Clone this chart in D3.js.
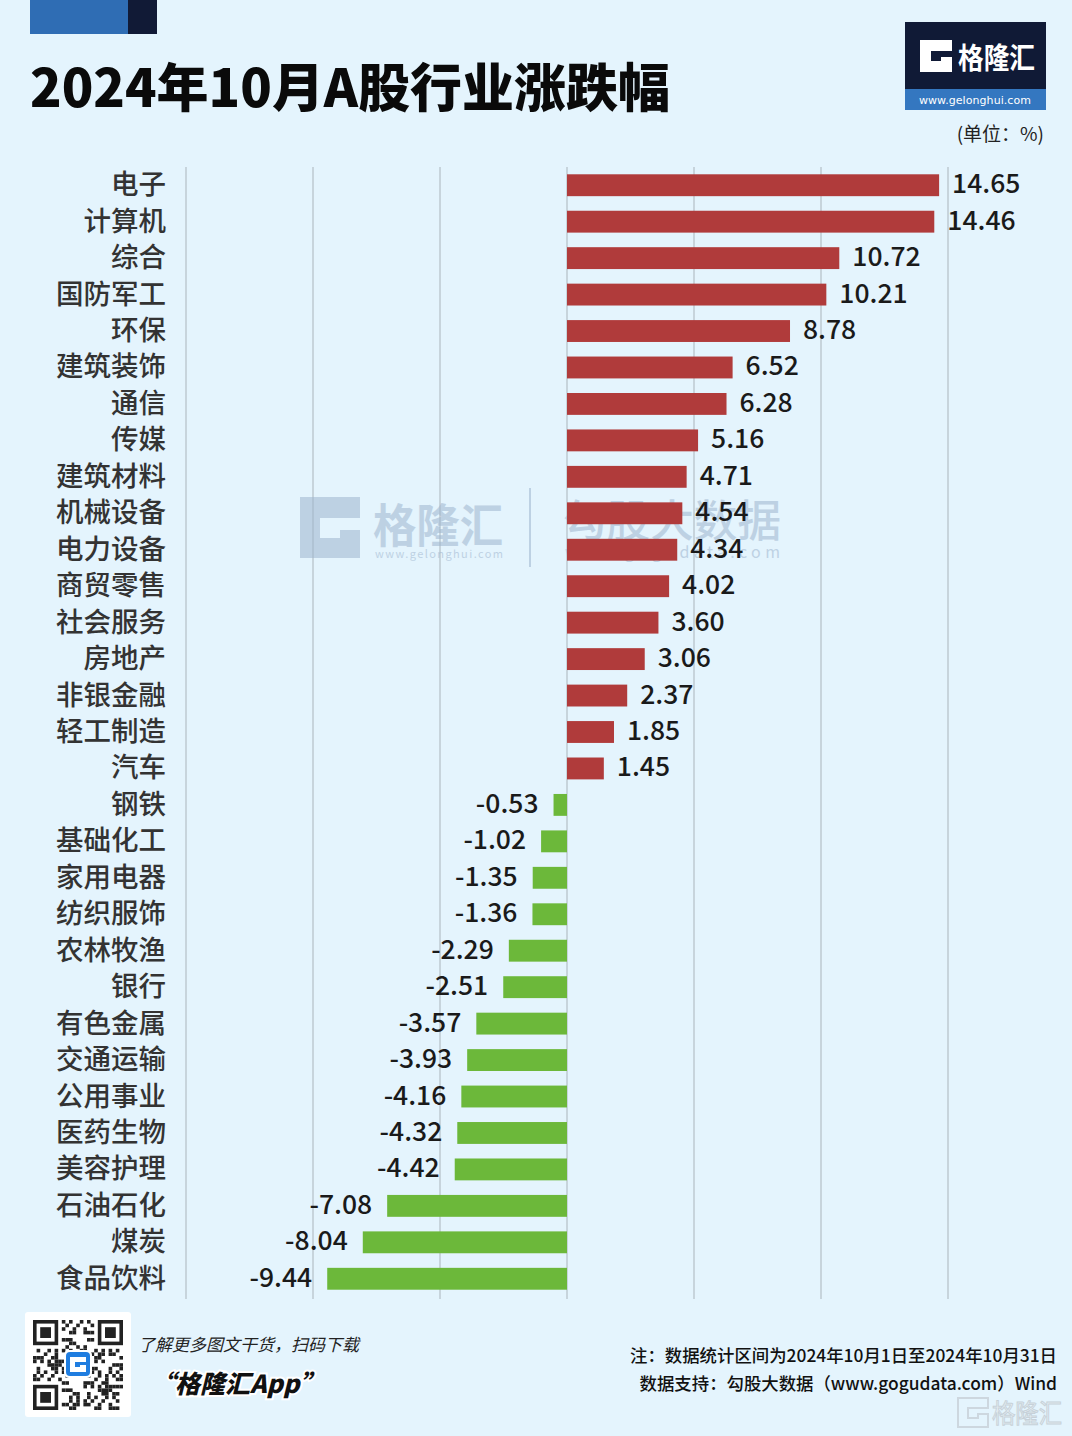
<!DOCTYPE html>
<html><head><meta charset="utf-8">
<script src="https://cdn.jsdelivr.net/npm/d3@7"></script>
<style>
html,body{margin:0;padding:0;background:#e4f4fd;}
svg{display:block;font-family:"Noto Sans CJK SC","Noto Sans",sans-serif;}
</style></head>
<body>
<svg id="c" width="1072" height="1436"></svg>
<script>
const categories = ["电子","计算机","综合","国防军工","环保","建筑装饰","通信","传媒","建筑材料","机械设备","电力设备","商贸零售","社会服务","房地产","非银金融","轻工制造","汽车","钢铁","基础化工","家用电器","纺织服饰","农林牧渔","银行","有色金属","交通运输","公用事业","医药生物","美容护理","石油石化","煤炭","食品饮料"];
const values = [14.65,14.46,10.72,10.21,8.78,6.52,6.28,5.16,4.71,4.54,4.34,4.02,3.60,3.06,2.37,1.85,1.45,-0.53,-1.02,-1.35,-1.36,-2.29,-2.51,-3.57,-3.93,-4.16,-4.32,-4.42,-7.08,-8.04,-9.44];
const gridTicks = [-15,-10,-5,0,5,10,15];
const title = "2024年10月A股行业涨跌幅";
const unitLabel = "(单位：%)";
const note1 = "注：数据统计区间为2024年10月1日至2024年10月31日";
const note2 = "数据支持：勾股大数据（www.gogudata.com）Wind";

const data = categories.map((c,i)=>({cat:c, v:values[i]}));
const svg = d3.select("#c");
svg.append("rect").attr("width",1072).attr("height",1436).attr("fill","#e4f4fd");

// top-left decorative blocks
svg.append("rect").attr("x",30).attr("y",0).attr("width",98).attr("height",34).attr("fill","#2f6db4");
svg.append("rect").attr("x",128).attr("y",0).attr("width",29).attr("height",34).attr("fill","#111a36");

// title
svg.append("text").attr("x",30).attr("y",107).attr("font-size",52).attr("font-weight",900)
  .attr("fill","#0a0a0a").attr("textLength",640).attr("lengthAdjust","spacingAndGlyphs").text(title);

// logo top-right
const lg = svg.append("g");
lg.append("rect").attr("x",905).attr("y",22).attr("width",141).attr("height",67).attr("fill","#101a36");
lg.append("rect").attr("x",905).attr("y",89).attr("width",141).attr("height",21).attr("fill","#3477c0");
lg.append("path").attr("d","M920,40 H952 V51 H931 V61 H941 V57 H952 V72 H920 Z").attr("fill","#ffffff");
lg.append("text").attr("x",958).attr("y",69).attr("font-size",29).attr("font-weight",700).attr("fill","#fff")
  .attr("textLength",77).attr("lengthAdjust","spacingAndGlyphs").text("格隆汇");
lg.append("text").attr("x",975).attr("y",104).attr("text-anchor","middle").attr("font-size",11).attr("fill","#fff")
  .attr("font-family","DejaVu Sans, sans-serif").attr("textLength",112).text("www.gelonghui.com");

svg.append("text").attr("x",1044).attr("y",141).attr("text-anchor","end").attr("font-size",19).attr("fill","#222").text(unitLabel);

// scales
const x = d3.scaleLinear().domain([-15,15]).range([186,948]);
const y = d3.scaleBand().domain(categories).range([167,1297]).paddingInner(0.4).paddingOuter(0.2);

// grid
svg.append("g").selectAll("line").data(gridTicks).join("line")
  .attr("x1",d=>x(d)).attr("x2",d=>x(d)).attr("y1",167).attr("y2",1299)
  .attr("stroke","#b7c3cb").attr("stroke-width",1.3);

// watermark (center)
const wm = svg.append("g").attr("opacity",0.55).attr("fill","#9fb6cf");
wm.append("path").attr("d","M300,497 H360 V518 H320 V538 H340 V530 H360 V558 H300 Z").attr("fill","#9fb6cf");
wm.append("text").attr("x",373).attr("y",542).attr("font-size",46).attr("font-weight",700)
  .attr("textLength",130).attr("lengthAdjust","spacingAndGlyphs").text("格隆汇");
wm.append("text").attr("x",375).attr("y",558).attr("font-size",11).attr("textLength",128).text("www.gelonghui.com");
wm.append("line").attr("x1",530).attr("x2",530).attr("y1",488).attr("y2",567).attr("stroke","#9fb6cf").attr("stroke-width",2);
wm.append("text").attr("x",563).attr("y",537).attr("font-size",44).attr("font-weight",500)
  .attr("textLength",218).attr("lengthAdjust","spacingAndGlyphs").text("勾股大数据");
wm.append("text").attr("x",565).attr("y",558).attr("font-size",16).attr("textLength",215).text("www.gogudata.com");

// bars
svg.append("g").selectAll("rect").data(data).join("rect")
  .attr("x",d=>x(Math.min(0,d.v))).attr("y",d=>y(d.cat))
  .attr("width",d=>Math.abs(x(d.v)-x(0))).attr("height",y.bandwidth())
  .attr("fill",d=>d.v>=0?"#b03b3b":"#6cb83a");

// category labels
svg.append("g").selectAll("text").data(data).join("text")
  .attr("x",166).attr("y",d=>y(d.cat)+y.bandwidth()/2+9)
  .attr("text-anchor","end").attr("font-size",27.5).attr("font-weight",500).attr("fill","#333")
  .text(d=>d.cat);

// value labels
svg.append("g").selectAll("text").data(data).join("text")
  .attr("x",d=>d.v>=0? x(d.v)+13 : x(d.v)-15)
  .attr("y",d=>y(d.cat)+y.bandwidth()/2+8)
  .attr("text-anchor",d=>d.v>=0?"start":"end")
  .attr("font-size",26.5).attr("font-weight",500).attr("fill","#1a1a1a")
  .text(d=>d.v.toFixed(2));

// footer QR
const qr = svg.append("g");
qr.append("rect").attr("x",25).attr("y",1312).attr("width",106).attr("height",105).attr("fill","#fff").attr("rx",3);
const N=25, cell=3.6, qx=33, qy=1320;
const mods=[];
for(let i=0;i<N;i++)for(let j=0;j<N;j++){
  const inF=(i<8&&j<8)||(i<8&&j>=N-8)||(i>=N-8&&j<8);
  if(inF) continue;
  if(((i*31+j*17+(i*j)%7)%5)<2) mods.push([i,j]);
}
qr.selectAll("rect.m").data(mods).join("rect").attr("class","m")
  .attr("x",d=>qx+d[1]*cell).attr("y",d=>qy+d[0]*cell).attr("width",cell).attr("height",cell).attr("fill","#222");
[[0,0],[0,N-7],[N-7,0]].forEach(([r,c])=>{
  qr.append("rect").attr("x",qx+c*cell).attr("y",qy+r*cell).attr("width",7*cell).attr("height",7*cell).attr("fill","#222");
  qr.append("rect").attr("x",qx+(c+1)*cell).attr("y",qy+(r+1)*cell).attr("width",5*cell).attr("height",5*cell).attr("fill","#fff");
  qr.append("rect").attr("x",qx+(c+2)*cell).attr("y",qy+(r+2)*cell).attr("width",3*cell).attr("height",3*cell).attr("fill","#222");
});
qr.append("rect").attr("x",64).attr("y",1350).attr("width",28).attr("height",28).attr("rx",5).attr("fill","#fff");
qr.append("rect").attr("x",66).attr("y",1352).attr("width",24).attr("height",24).attr("rx",4).attr("fill","#1f7de0");
qr.append("path").attr("d","M70,1357 H86 V1362 H75 V1367 H80 V1365 H86 V1372 H70 Z").attr("fill","#fff");

svg.append("text").attr("x",138).attr("y",1351).attr("font-size",17).attr("font-style","italic").attr("fill","#222")
  .text("了解更多图文干货，扫码下载");
svg.append("text").attr("x",150).attr("y",1393).attr("font-size",25).attr("font-weight",900).attr("font-style","italic")
  .attr("fill","#111").attr("stroke","#fff").attr("stroke-width",4).attr("paint-order","stroke")
  .text("“格隆汇App”");

svg.append("text").attr("x",1057).attr("y",1362).attr("text-anchor","end").attr("font-size",17.4).attr("fill","#111")
  .attr("font-weight",500).text(note1);
svg.append("text").attr("x",1057).attr("y",1390).attr("text-anchor","end").attr("font-size",17.4).attr("fill","#111")
  .attr("font-weight",500).text(note2);

// bottom-right watermark
const bw = svg.append("g").attr("opacity",0.85);
bw.append("path").attr("d","M958,1398 H988 V1408 H968 V1418 H978 V1414 H988 V1427 H958 Z")
  .attr("fill","none").attr("stroke","#c9d3da").attr("stroke-width",2);
bw.append("text").attr("x",992).attr("y",1423).attr("font-size",26).attr("fill","#e8eef2").attr("stroke","#c2ccd3").attr("stroke-width",1)
  .attr("textLength",70).attr("lengthAdjust","spacingAndGlyphs").text("格隆汇");
</script>
</body></html>
